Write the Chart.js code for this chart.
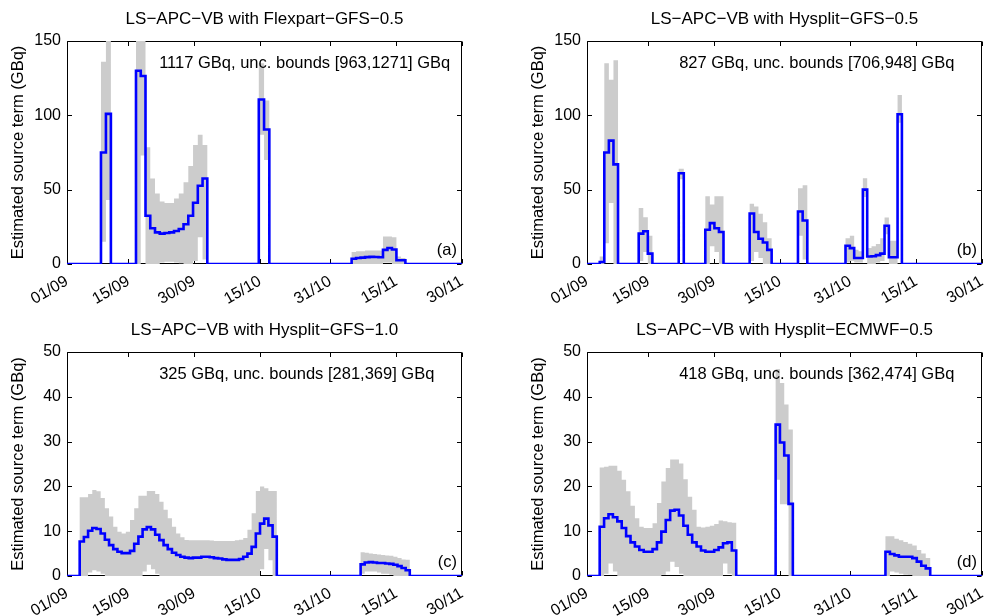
<!DOCTYPE html>
<html><head><meta charset="utf-8">
<script src="https://cdn.jsdelivr.net/npm/chart.js@4.4.0/dist/chart.umd.min.js"></script>
<style>
html,body{margin:0;padding:0;background:#fff;}
#wrap{position:relative;width:984px;height:616px;overflow:hidden;background:#fff;}
canvas{position:absolute;}
</style></head><body>
<div id="wrap">
<canvas id="ca" width="492" height="308" style="left:0;top:0"></canvas>
<canvas id="cb" width="464" height="308" style="left:520px;top:0"></canvas>
<canvas id="cc" width="492" height="308" style="left:0;top:308px"></canvas>
<canvas id="cd" width="464" height="308" style="left:520px;top:308px"></canvas>
</div>
<script>
// ---------- data (x in days since 01/09) ----------
const tickDays = [0, 14, 29, 44, 60, 75, 90];
const tickLabels = ['01/09', '15/09', '30/09', '15/10', '31/10', '15/11', '30/11'];

// Panel (a) LS-APC-VB with Flexpart-GFS-0.5
const aStart = [7.74, 15.72, 43.7, 64.85];
const aEnd   = [10.0, 31.97, 46.1, 77.1];
const aMean = [
  [75, 101],
  [130, 126.5, 32.5, 24, 21.3, 20.4, 20.9, 21.3, 22.2, 23.5, 26.7, 32.5, 41.2, 52.6, 57.5],
  [110.7, 90.5],
  [3.5, 4.0, 4.3, 4.6, 4.8, 4.7, 4.5, 9.5, 10.8, 9.8, 2.5, 2.5]
];
const aHigh = [
  [136, 175],
  [175, 175, 78.5, 57.5, 47.5, 42, 41, 41, 44, 47.5, 55, 66, 80, 87, 80],
  [135, 110],
  [8, 8.5, 8.5, 9, 9, 9, 9, 18.5, 18.5, 18, 5, 4]
];
const aLow = [
  [15, 43],
  [0, 73, 0, 0, 0, 1, 1.5, 1.5, 1, 0.5, 0, 0, 2, 18, 3],
  [87, 70],
  [0, 0, 0, 0, 0, 0, 0, 1, 1, 0, 0, 0]
];

// Panel (b) LS-APC-VB with Hysplit-GFS-0.5
const bStart = [2.9, 11.78, 20.9, 26.96, 37.06, 48.07, 58.9];
const bEnd   = [7.07, 14.9, 22.05, 31.1, 42.07, 50.2, 71.75];
const bMean = [
  [1.3, 75, 83, 67],
  [20.4, 22, 7],
  [61],
  [23, 27.5, 24, 21.5],
  [34, 21.5, 17, 14.5, 9.5],
  [35.3, 29.3],
  [12.3, 10.7, 4, 4, 50, 5, 5.2, 6, 7, 25.7, 4.5, 4.5, 100.7]
];
const bHigh = [
  [5, 135, 124, 137],
  [37.6, 31.5, 19],
  [64],
  [45.5, 40, 45.5, 45.5],
  [40.5, 38.7, 33.8, 28, 17.4],
  [51, 53],
  [17.4, 19, 9.6, 8.5, 57.7, 10.7, 12, 13.4, 17.4, 31.3, 15.7, 15.7, 113.6]
];
const bLow = [
  [0, 14, 41, 0],
  [2, 8, 0],
  [57],
  [0, 12, 8, 0],
  [2, 8, 4, 0, 0],
  [19, 3],
  [1, 2, 1, 1, 45, 0, 0, 1, 2, 20, 0, 0, 95]
];

// Panel (c) LS-APC-VB with Hysplit-GFS-1.0
const cStart = [2.89, 66.9];
const cEnd   = [47.8, 78.1];
const cMean = [
  [7.7, 8.7, 10.1, 10.7, 10.5, 9.5, 8.1, 6.9, 6.0, 5.4, 5.1, 5.1, 5.6, 7.2, 8.8, 10.4, 10.9, 10.4, 9.2, 8.0,
   6.9, 6.0, 5.2, 4.7, 4.3, 4.1, 4.0, 4.1, 4.1, 4.3, 4.3, 4.2, 4.0, 3.9, 3.7, 3.6, 3.6, 3.6, 3.8, 4.3,
   5.0, 6.5, 9.5, 11.7, 12.8, 11.3, 8.8],
  [2.6, 3.0, 3.1, 3.0, 2.9, 2.9, 2.8, 2.7, 2.5, 2.2, 1.8, 1.3]
];
const cHigh = [
  [17.6, 17.6, 18.3, 19.2, 18.9, 17.4, 15.1, 13.3, 11.0, 9.9, 9.5, 9.9, 12.5, 15.1, 17.9, 17.9, 19.0, 19.0, 18.3, 16.6,
   14.8, 12.9, 11.0, 9.5, 8.65, 8.05, 8.0, 8.0, 8.0, 8.0, 8.0, 7.9, 7.8, 7.8, 7.8, 7.8, 7.8, 8.0, 8.1, 8.5,
   10.3, 14, 19, 20, 19.6, 19, 19],
  [5.3, 5.2, 5.0, 4.9, 4.8, 4.7, 4.6, 4.5, 4.3, 4.0, 3.7, 3.6]
];
const cLow = [
  [0, 0, 0.8, 1.3, 1.0, 0.5, 0, 0, 0, 0, 0, 0, 0, 0, 0, 1, 2.5, 1.5, 0.5, 0,
   0, 0, 0, 0, 0, 0, 0, 0, 0, 0, 0, 0, 0, 0, 0, 0, 0, 0, 0, 0,
   0, 0, 0, 1.5, 6, 3.5, 0],
  [0.5, 1, 1, 1, 0.8, 0.5, 0.5, 0.3, 0, 0, 0, 0]
];

// Panel (d) LS-APC-VB with Hysplit-ECMWF-0.5
const dStart = [2.89, 42.98, 68.0];
const dEnd   = [34.0, 46.9, 78.2];
const dMean = [
  [11.0, 12.9, 13.8, 13.1, 12.2, 10.7, 8.9, 7.5, 6.6, 5.8, 5.4, 5.4, 6.0, 7.5, 9.9, 12.5, 14.6, 14.8, 13.5, 11.2,
   9.2, 7.5, 6.6, 5.7, 5.4, 5.4, 5.8, 6.4, 7.3, 7.5, 5.7],
  [33.8, 29.8, 26.9, 16.1],
  [5.4, 4.9, 4.6, 4.3, 4.3, 4.3, 4.0, 3.2, 2.3, 1.7]
];
const dHigh = [
  [24.2, 24.4, 24.6, 24.6, 23.5, 21.5, 18.9, 15.7, 12.9, 11.0, 10.7, 10.7, 11.8, 16.3, 21.1, 24.1, 26.0, 26.0, 25.1, 21.6,
   17.7, 14.8, 11.0, 10.8, 11.0, 11.2, 11.6, 12.4, 12.2, 12.0, 11.9],
  [46.2, 43.1, 38.3, 32.7],
  [8.9, 8.9, 8.3, 8.0, 7.6, 7.2, 6.8, 5.8, 5.0, 4.0]
];
const dLow = [
  [0, 0.5, 2.8, 1, 0, 0, 0, 0, 0, 0, 0, 0, 0, 0, 0.3, 1, 3.2, 2, 0.5, 0,
   0, 0, 0, 0, 0, 0, 0, 0, 2.8, 0.5, 0],
  [21.5, 16, 16, 0],
  [0, 1, 0.8, 0.5, 0.3, 0.2, 0, 0, 0, 0]
];

const titles = ['LS\u2212APC\u2212VB with Flexpart\u2212GFS\u22120.5', 'LS\u2212APC\u2212VB with Hysplit\u2212GFS\u22120.5',
                'LS\u2212APC\u2212VB with Hysplit\u2212GFS\u22121.0', 'LS\u2212APC\u2212VB with Hysplit\u2212ECMWF\u22120.5'];
const notes = ['1117 GBq, unc. bounds [963,1271] GBq', '827 GBq, unc. bounds [706,948] GBq',
               '325 GBq, unc. bounds [281,369] GBq', '418 GBq, unc. bounds [362,474] GBq'];
const letters = ['(a)', '(b)', '(c)', '(d)'];
const yMax = [150, 150, 50, 50];
const yStep = [50, 50, 10, 10];
const noteDay = 21;

// ---------- helpers ----------
const FONT = '"Liberation Sans", Arial, Helvetica, sans-serif';
Chart.defaults.font.family = FONT;
Chart.defaults.color = '#000';

// each point starts a step; its value holds until the next point
function build(starts, ends, vals) {
  const pts = [{x: 0, y: 0}];
  for (let s = 0; s < starts.length; s++) {
    const n = vals[s].length, w = (ends[s] - starts[s]) / n;
    for (let i = 0; i < n; i++) pts.push({x: starts[s] + i * w, y: vals[s][i]});
    pts.push({x: ends[s], y: 0});
  }
  pts.push({x: 90, y: 0});
  return pts;
}

const decor = {
  id: 'decor',
  beforeDatasetsDraw(chart, args, o) {
    const {ctx, chartArea: ca, scales: {x, y}} = chart;
    const L = Math.round(ca.left) + 0.5, R = Math.round(ca.right) - 0.5;
    const T = Math.round(ca.top) + 0.5, B = Math.round(ca.bottom) - 0.5;
    ctx.save();
    ctx.strokeStyle = '#000'; ctx.lineWidth = 1;
    ctx.beginPath();
    ctx.rect(L, T, R - L, B - T);
    const tl = 4.5;
    tickDays.forEach(v => {
      const px = Math.round(x.getPixelForValue(v)) + 0.5;
      ctx.moveTo(px, B); ctx.lineTo(px, B - tl);
      ctx.moveTo(px, T); ctx.lineTo(px, T + tl);
    });
    y.ticks.forEach(t => {
      const py = Math.round(y.getPixelForValue(t.value)) + 0.5;
      ctx.moveTo(L, py); ctx.lineTo(L + tl, py);
      ctx.moveTo(R, py); ctx.lineTo(R - tl, py);
    });
    ctx.stroke();
    ctx.restore();
  },
  afterDatasetsDraw(chart, args, o) {
    const {ctx, chartArea: ca, scales: {x, y}} = chart;
    ctx.save();
    ctx.fillStyle = '#000';
    ctx.textBaseline = 'middle';
    ctx.textAlign = 'center';
    ctx.font = '17px ' + FONT;
    ctx.fillText(o.title, (ca.left + ca.right) / 2, ca.top - 22);
    ctx.font = '16.5px ' + FONT;
    ctx.textAlign = 'left';
    ctx.fillText(o.note, x.getPixelForValue(noteDay), y.getPixelForValue(o.ymax * 0.9));
    ctx.textAlign = 'right';
    ctx.fillText(o.letter, ca.right - 5, ca.bottom - 14);
    ctx.restore();
  }
};

function makeChart(id, k, starts, ends, mean, high, low, padTop, padRight, xh) {
  return new Chart(document.getElementById(id), {
    type: 'line',
    data: {datasets: [
      {data: build(starts, ends, mean), borderColor: '#0000ff', borderWidth: 2.6, stepped: 'before',
       pointRadius: 0, fill: false, borderJoinStyle: 'miter'},
      {data: build(starts, ends, high), borderColor: 'rgba(0,0,0,0)', borderWidth: 0, backgroundColor: '#cccccc',
       stepped: 'before', pointRadius: 0, fill: '+1'},
      {data: build(starts, ends, low), borderColor: 'rgba(0,0,0,0)', borderWidth: 0, stepped: 'before',
       pointRadius: 0, fill: false}
    ]},
    options: {
      responsive: false, animation: false, devicePixelRatio: 1,
      layout: {padding: {top: padTop, right: padRight, left: 0, bottom: 0}},
      plugins: {legend: {display: false}, tooltip: {enabled: false},
        decor: {title: titles[k], note: notes[k], letter: letters[k], ymax: yMax[k]}},
      scales: {
        x: {type: 'linear', min: 0, max: 90,
          afterBuildTicks: s => { s.ticks = tickDays.map(v => ({value: v})); },
          ticks: {autoSkip: false, minRotation: 30, maxRotation: 30, padding: 8, color: '#000',
            font: {size: 16}, callback: v => tickLabels[tickDays.indexOf(v)]},
          grid: {display: false, drawTicks: false}, border: {display: false},
          afterFit: s => { s.height = xh; s.paddingLeft = 0; s.paddingRight = 0; }},
        y: {min: 0, max: yMax[k],
          ticks: {stepSize: yStep[k], padding: 6, color: '#000', font: {size: 16}},
          grid: {display: false, drawTicks: false}, border: {display: false},
          title: {display: true, text: 'Estimated source term (GBq)', color: '#000',
            font: {size: 16.5}, padding: {top: 9, bottom: 0}},
          afterFit: s => { s.width = 67; s.paddingTop = 0; s.paddingBottom = 0; }}
      }
    },
    plugins: [decor]
  });
}

makeChart('ca', 0, aStart, aEnd, aMean, aHigh, aLow, 41, 30, 44);
makeChart('cb', 1, bStart, bEnd, bMean, bHigh, bLow, 41, 2, 44);
makeChart('cc', 2, cStart, cEnd, cMean, cHigh, cLow, 44, 30, 40);
makeChart('cd', 3, dStart, dEnd, dMean, dHigh, dLow, 44, 2, 40);
</script>
</body></html>
